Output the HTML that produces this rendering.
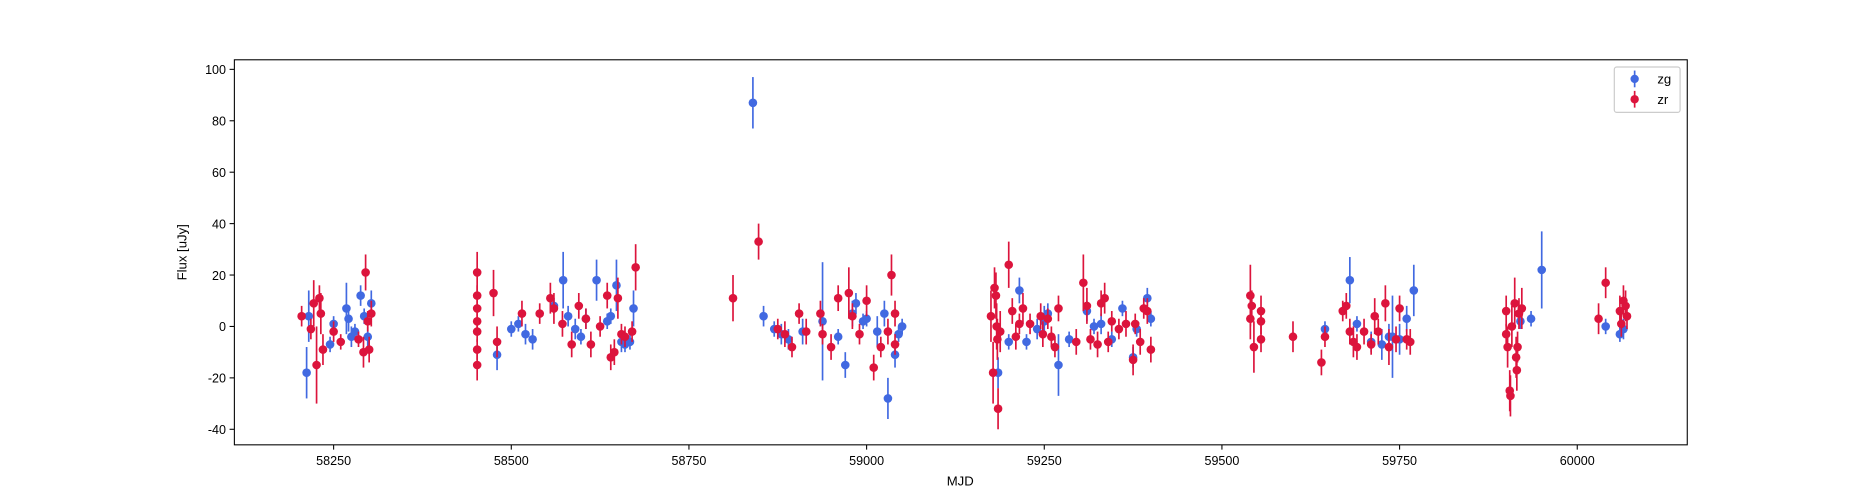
<!DOCTYPE html>
<html><head><meta charset="utf-8"><style>
body{margin:0;background:#fff;overflow:hidden;}
svg{font-family:"Liberation Sans","DejaVu Sans",sans-serif;display:block;}
</style></head><body>
<svg id="chart" width="1875" height="500" viewBox="0 0 1568 418.13">
<rect x="0" y="0" width="1568" height="418.13" fill="#fff"/>
<g id="plot"></g>
<rect x="196" y="50" width="1215" height="322" fill="none" stroke="#000" stroke-width="0.9"/>
<g id="axes"></g>
<text x="803" y="406" font-size="11" text-anchor="middle">MJD</text>
<text transform="translate(156,211) rotate(-90)" font-size="11" text-anchor="middle">Flux [uJy]</text>
<g>
<rect x="1350" y="56" width="55" height="38" rx="2" fill="#fff" stroke="#ccc"/>
<g><line x1="1367" y1="59" x2="1367" y2="73" stroke="#4169e1" stroke-width="1.4"/><circle cx="1367" cy="66" r="3.5" fill="#4169e1"/><text x="1386" y="70" font-size="11">zg</text></g>
<g><line x1="1367" y1="76" x2="1367" y2="90" stroke="#dc143c" stroke-width="1.4"/><circle cx="1367" cy="83" r="3.5" fill="#dc143c"/><text x="1386" y="87" font-size="11">zr</text></g>
</g>
</svg>
<script>
const xTicks=[58250,58500,58750,59000,59250,59500,59750,60000];
const yTicks=[-40,-20,0,20,40,60,80,100];
const zgMjd=[58212,58215,58245,58250,58268,58271,58275,58280,58288,58293,58298,58303,58480,58500,58510,58520,58530,58560,58573,58580,58590,58598,58605,58620,58635,58640,58648,58655,58660,58667,58672,58840,58855,58870,58880,58890,58910,58938,58960,58970,58980,58985,58995,59000,59015,59025,59030,59040,59045,59050,59185,59200,59215,59225,59240,59250,59255,59270,59285,59310,59320,59330,59345,59360,59375,59380,59395,59400,59645,59680,59690,59710,59725,59735,59740,59750,59760,59770,59920,59935,59950,60040,60060,60065];
const zgFlux=[-18,4,-7,1,7,3,-4,-2,12,4,-4,9,-11,-1,1,-3,-5,8,18,4,-1,-4,3,18,2,4,16,-6,-7,-6,7,87,4,-1,-3,-5,-2,2,-4,-15,5,9,2,3,-2,5,-28,-11,-3,0,-18,-6,14,-6,-1,2,5,-15,-5,6,0,1,-5,7,-12,-1,11,3,-1,18,1,-6,-7,-4,-4,-5,3,14,2,3,22,0,-3,-1];
const zgErr=[10,10,3,3,10,5,4,3,4,3,4,5,6,3,3,4,4,3,11,4,4,3,4,8,3,3,10,4,3,3,7,10,4,3,4,4,5,23,3,5,5,4,3,3,6,5,8,5,3,3,6,3,5,3,4,6,4,12,3,4,3,4,3,3,4,3,4,3,3,9,3,4,6,5,16,6,5,10,3,3,15,3,3,4];
const zrMjd=[58205,58218,58222,58226,58230,58232,58235,58250,58260,58285,58292,58295,58300,58303,58298,58452,58452,58452,58452,58452,58452,58452,58475,58480,58515,58540,58555,58560,58572,58585,58595,58605,58612,58625,58635,58640,58645,58650,58655,58660,58670,58675,58812,58848,58875,58885,58895,58905,58915,58935,58938,58950,58960,58975,58980,58990,59000,59010,59020,59030,59035,59040,59040,59175,59178,59180,59182,59183,59184,59185,59188,59200,59205,59210,59215,59220,59230,59245,59248,59255,59260,59265,59270,59295,59305,59310,59315,59325,59330,59335,59340,59345,59355,59365,59375,59378,59390,59395,59400,59385,59540,59540,59542,59545,59555,59555,59555,59600,59640,59645,59670,59675,59680,59685,59690,59700,59710,59715,59720,59730,59735,59745,59750,59760,59765,59900,59900,59902,59905,59906,59908,59912,59914,59915,59916,59918,59922,60030,60040,60060,60065,60068,60070,60062];
const zrFlux=[4,-1,9,-15,11,5,-9,-2,-6,-5,-10,21,-9,5,2,21,12,7,2,-2,-9,-15,13,-6,5,5,11,7,1,-7,8,3,-7,0,12,-12,-10,11,-3,-4,-2,23,11,33,-1,-3,-8,5,-2,5,-3,-8,11,13,4,-3,10,-16,-8,-2,20,-7,5,4,-18,15,12,0,-5,-32,-2,24,6,-4,1,7,1,4,-3,3,-4,-8,7,-6,17,8,-5,-7,9,11,-6,2,-1,1,-13,1,7,6,-9,-6,12,3,8,-8,6,2,-5,-4,-14,-4,6,8,-2,-6,-8,-2,-7,4,-2,9,-8,-5,7,-5,-6,6,-3,-8,-25,-27,0,9,-12,-17,-8,5,7,3,17,6,10,8,4,1];
const zrErr=[4,4,9,15,5,8,6,4,3,3,6,7,5,5,4,8,4,4,4,4,4,6,9,6,5,4,6,6,5,5,5,4,5,4,5,5,5,8,4,4,4,9,9,7,4,5,4,4,5,5,4,5,5,10,5,4,6,5,4,5,8,4,5,10,12,8,9,9,8,8,8,9,5,5,4,6,4,5,5,4,4,4,5,5,11,7,4,5,5,6,4,4,4,5,6,4,4,5,5,5,12,8,6,10,6,5,5,6,5,4,4,5,5,6,5,5,4,7,5,7,7,5,5,4,5,6,4,8,8,8,8,10,8,8,6,6,8,6,6,6,6,6,5,5];
const X=v=>279+(v-58250)*(1040/1750);
const Y=v=>273-v*(301/140);
const NS='http://www.w3.org/2000/svg';
const plot=document.getElementById('plot'),axes=document.getElementById('axes');
function mk(tag,attrs,parent){const e=document.createElementNS(NS,tag);for(const k in attrs)e.setAttribute(k,attrs[k]);parent.appendChild(e);return e;}
xTicks.forEach(t=>{const g=mk('g',{},axes);


mk('line',{x1:X(t),x2:X(t),y1:372,y2:376,stroke:'#000','stroke-width':0.9},g);
const tx=mk('text',{x:X(t),y:389,'font-size':10.5,'text-anchor':'middle'},g);tx.textContent=t;});
yTicks.forEach(t=>{const g=mk('g',{},axes);


mk('line',{x1:192,x2:196,y1:Y(t),y2:Y(t),stroke:'#000','stroke-width':0.9},g);
const tx=mk('text',{x:189,y:Y(t)+4,'font-size':10.5,'text-anchor':'end'},g);tx.textContent=t;});
function series(m,f,e,col,name){const g=mk('g',{},plot);


m.forEach((v,i)=>{mk('line',{x1:X(v),x2:X(v),y1:Y(f[i]-e[i]),y2:Y(f[i]+e[i]),stroke:col,'stroke-width':1.4},g);});
m.forEach((v,i)=>{const c=mk('circle',{cx:X(v),cy:Y(f[i]),r:3.6,fill:col},g);

});}
series(zgMjd,zgFlux,zgErr,'#4169e1','series-zg');
series(zrMjd,zrFlux,zrErr,'#dc143c','series-zr');
</script>
</body></html>
